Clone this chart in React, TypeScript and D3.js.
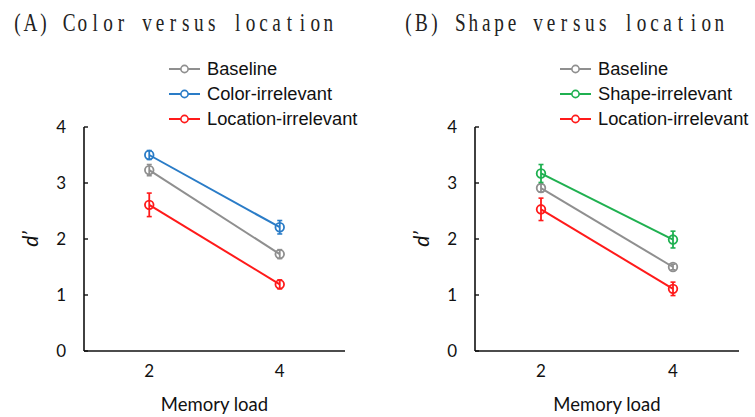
import React from 'react';
import * as d3 from 'd3';

const loads = [2, 4];
const yTicks = [0, 1, 2, 3, 4];

const baselineA = [3.23, 1.73];
const baselineErrA = [0.1, 0.08];
const colorIrr = [3.5, 2.21];
const colorIrrErr = [0.08, 0.12];
const locIrrA = [2.61, 1.19];
const locIrrErrA = [0.21, 0.08];

const baselineB = [2.91, 1.5];
const baselineErrB = [0.07, 0.05];
const shapeIrr = [3.17, 1.99];
const shapeIrrErr = [0.16, 0.15];
const locIrrB = [2.53, 1.11];
const locIrrErrB = [0.2, 0.12];

const GRAY = '#8f8f8f';
const BLUE = '#2a7cc7';
const RED = '#ff1a1a';
const GREEN = '#1fb050';

const tickFont = 'Lato, "Open Sans", sans-serif';

// monospaced serif title: each character on a fixed pitch, glyphs narrowed
const Title = ({ text, x0, pitch }) => {
  const sx = 0.74;
  return (
    <g transform={`translate(${x0},0) scale(${sx},1)`}>
      <text y={31} fontFamily='"Liberation Serif", "DejaVu Serif", serif' fontSize={26} fill="#222" textAnchor="middle">
        {text.split('').map((c, i) => (
          <tspan key={i} x={(pitch * i + pitch / 2) / sx}>
            {c === ' ' ? '\u00a0' : c}
          </tspan>
        ))}
      </text>
    </g>
  );
};

const Panel = ({ left, right, title, titleX, series }) => {
  const x = d3.scaleLinear().domain([1, 5]).range([left, right]);
  const y = d3.scaleLinear().domain([0, 4]).range([351, 127]);
  const line = d3.line().x((d) => x(d[0])).y((d) => y(d[1]));

  return (
    <g>
      <Title text={title} x0={titleX} pitch={12.95} />

      {/* legend */}
      {series.map((s, i) => {
        const ly = 69 + i * 25;
        const lx = left + 85;
        return (
          <g key={s.name}>
            <line x1={lx} x2={lx + 31} y1={ly} y2={ly} stroke={s.color} strokeWidth={2} />
            <circle cx={lx + 15.5} cy={ly} r={3.6} fill="white" stroke={s.color} strokeWidth={1.6} />
            <text x={lx + 38} y={ly + 6} fontFamily='"Liberation Sans", Arial, sans-serif' fontSize={18.3} fill="#111">
              {s.name}
            </text>
          </g>
        );
      })}

      {/* axes */}
      <line x1={x(1)} x2={x(1)} y1={y(4)} y2={y(0)} stroke="#111" strokeWidth={1.6} />
      <line x1={x(1)} x2={x(5)} y1={y(0)} y2={y(0)} stroke="#111" strokeWidth={1.6} />
      {yTicks.map((t) => (
        <g key={t}>
          <line x1={x(1)} x2={x(1) + 4} y1={y(t)} y2={y(t)} stroke="#111" strokeWidth={1.4} />
          <text x={x(1) - 18} y={y(t) + 6} textAnchor="end" fontFamily={tickFont} fontSize={17} fill="#111">
            {t}
          </text>
        </g>
      ))}
      {loads.map((l) => (
        <text key={l} x={x(l)} y={377} textAnchor="middle" fontFamily={tickFont} fontSize={17} fill="#111">
          {l}
        </text>
      ))}
      <text x={(x(1) + x(5)) / 2} y={411} textAnchor="middle" fontFamily={tickFont} fontSize={18.5} fill="#111">
        Memory load
      </text>
      <text
        transform={`translate(${x(1) - 46},${y(2)}) rotate(-90)`}
        textAnchor="middle"
        fontFamily={tickFont}
        fontSize={21}
        fontStyle="italic"
        fill="#111"
      >
        d’
      </text>

      {/* series */}
      {series.map((s) => {
        const pts = loads.map((l, i) => [l, s.values[i]]);
        return (
          <g key={s.name}>
            <path d={line(pts)} fill="none" stroke={s.color} strokeWidth={2} />
            {pts.map((p, i) => {
              const e = s.err[i];
              const cx = x(p[0]);
              return (
                <g key={i}>
                  <line x1={cx} x2={cx} y1={y(p[1] + e)} y2={y(p[1] - e)} stroke={s.color} strokeWidth={1.8} />
                  <line x1={cx - 2.5} x2={cx + 2.5} y1={y(p[1] + e)} y2={y(p[1] + e)} stroke={s.color} strokeWidth={1.6} />
                  <line x1={cx - 2.5} x2={cx + 2.5} y1={y(p[1] - e)} y2={y(p[1] - e)} stroke={s.color} strokeWidth={1.6} />
                  <circle cx={cx} cy={y(p[1])} r={4.3} fill="none" stroke={s.color} strokeWidth={1.8} />
                </g>
              );
            })}
          </g>
        );
      })}
    </g>
  );
};

export default function App() {
  const seriesA = [
    { name: 'Baseline', color: GRAY, values: baselineA, err: baselineErrA },
    { name: 'Color-irrelevant', color: BLUE, values: colorIrr, err: colorIrrErr },
    { name: 'Location-irrelevant', color: RED, values: locIrrA, err: locIrrErrA },
  ];
  const seriesB = [
    { name: 'Baseline', color: GRAY, values: baselineB, err: baselineErrB },
    { name: 'Shape-irrelevant', color: GREEN, values: shapeIrr, err: shapeIrrErr },
    { name: 'Location-irrelevant', color: RED, values: locIrrB, err: locIrrErrB },
  ];
  return (
    <svg
      width={755}
      height={417}
      style={{ position: 'absolute', left: 0, top: 0, background: 'white' }}
    >
      <Panel left={84} right={345} title="(A) Color versus location" titleX={11} series={seriesA} />
      <Panel left={475} right={739} title="(B) Shape versus location" titleX={402} series={seriesB} />
    </svg>
  );
}
